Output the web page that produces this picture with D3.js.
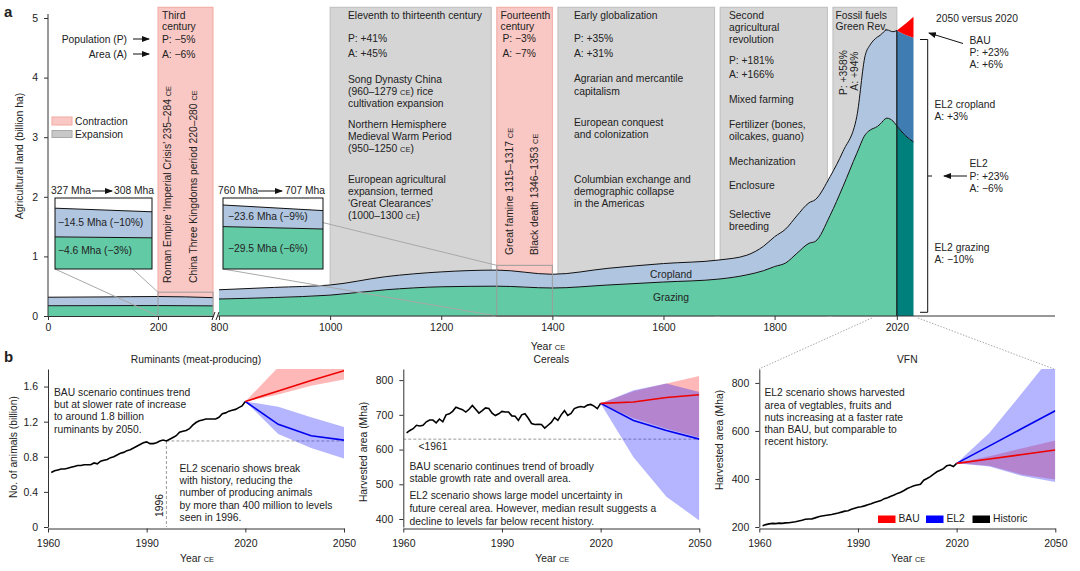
<!DOCTYPE html>
<html><head><meta charset="utf-8">
<script src="https://cdn.jsdelivr.net/npm/d3@7"></script>
<style>
body{margin:0;background:#fff;}
svg{font-family:"Liberation Sans",Arial,Helvetica,sans-serif;}
</style></head><body>
<svg id="c" width="1080" height="571"></svg>
<script>
// ---------- DATA: panel a (billion ha) ----------
const earlyYears   = [0, 100, 200, 300];
const earlyTotal   = [0.315, 0.32, 0.327, 0.308];
const earlyGrazing = [0.172, 0.174, 0.175, 0.17];

const mainYears   = [800,900,1000,1100,1200,1300,1400,1500,1600,1700,1750,1780,1800,1820,1840,1862,1873,1900,1923,1948,1963,1972,1985,1990,2002,2013,2020];
const mainTotal   = [0.44,0.48,0.52,0.66,0.74,0.77,0.70,0.80,0.88,0.94,1.02,1.17,1.33,1.46,1.68,1.90,1.95,2.34,2.76,3.35,4.37,4.55,4.68,4.71,4.80,4.77,4.79];
const mainGrazing = [0.285,0.31,0.35,0.44,0.49,0.50,0.47,0.52,0.57,0.62,0.69,0.76,0.83,0.89,1.05,1.22,1.25,1.69,2.17,2.73,3.04,3.12,3.18,3.22,3.32,3.27,3.19];

const scenYears   = [2020, 2035, 2050];
const el2Total    = [4.79, 4.72, 4.67];
const el2Grazing  = [3.19, 3.03, 2.92];
const bauTotal    = [4.79, 4.90, 5.02];

const periodStart = [200, 1000, 1300, 1410, 1702, 1905];
const periodEnd   = [300, 1290, 1400, 1692, 1895, 2020];
const periodKind  = ["Contraction","Expansion","Contraction","Expansion","Expansion","Expansion"];

const axisATicksLeft  = [0, 200];
const axisATicksRight = [800, 1000, 1200, 1400, 1600, 1800, 2020];
const axisAYTicks     = [0, 1, 2, 3, 4, 5];

// ---------- DATA: panel b ----------
const histYears = d3.range(1961, 2021);
const rumHist = [0.62,0.64,0.65,0.66,0.66,0.67,0.68,0.69,0.70,0.70,
                 0.71,0.71,0.71,0.73,0.72,0.75,0.76,0.77,0.79,0.80,
                 0.82,0.84,0.85,0.87,0.88,0.90,0.92,0.94,0.96,0.97,
                 0.95,0.95,0.96,0.98,0.99,0.98,1.00,1.02,1.04,1.08,
                 1.09,1.10,1.12,1.16,1.19,1.21,1.22,1.23,1.23,1.23,
                 1.23,1.25,1.29,1.30,1.32,1.33,1.34,1.36,1.38,1.43];
const cerHist = [648,655,660,670,668,670,680,685,685,677,
                 688,680,700,703,710,722,718,715,708,716,
                 727,716,705,712,720,718,705,698,703,710,
                 708,708,697,696,684,700,703,690,675,672,
                 673,672,662,670,678,692,684,700,712,698,
                 704,718,722,724,722,728,730,725,718,733];
const vfnHist = [205,210,213,215,214,216,215,217,218,220,
                 222,225,228,232,233,234,238,243,246,248,
                 250,252,255,258,262,266,268,274,278,282,
                 284,288,293,297,302,306,310,318,322,328,
                 333,340,345,352,360,366,372,375,378,395,
                 402,410,420,430,436,443,455,458,452,465];
const projYears = [2020, 2030, 2040, 2050];
const rumBAU   = [1.43, 1.55, 1.67, 1.78];
const rumBAUlo = [1.43, 1.51, 1.61, 1.68];
const rumBAUhi = [1.43, 1.82, 2.10, 2.35];
const rumEL2   = [1.43, 1.17, 1.04, 0.99];
const rumEL2lo = [1.43, 1.06, 0.90, 0.78];
const rumEL2hi = [1.43, 1.37, 1.25, 1.14];
const cerBAU   = [733, 737, 750, 758];
const cerBAUlo = [733, 690, 660, 635];
const cerBAUhi = [733, 768, 790, 812];
const cerEL2   = [733, 684, 655, 630];
const cerEL2lo = [733, 578, 464, 396];
const cerEL2hi = [733, 771, 790, 766];
const vfnBAU   = [465, 483, 502, 521];
const vfnBAUlo = [465, 455, 418, 398];
const vfnBAUhi = [465, 495, 528, 560];
const vfnEL2   = [465, 538, 611, 684];
const vfnEL2lo = [465, 452, 412, 387];
const vfnEL2hi = [465, 592, 760, 930];
const bXTicks = [1960, 1990, 2020, 2050];

// ---------- helpers ----------
const svg = d3.select("#c");
const FS = 10.3, INK = "#222";
const defs = svg.append("defs");
defs.append("marker").attr("id","arr").attr("viewBox","0 0 8 6").attr("refX",7).attr("refY",3)
  .attr("markerWidth",8).attr("markerHeight",6).attr("markerUnits","userSpaceOnUse").attr("orient","auto")
  .append("path").attr("d","M0,0L8,3L0,6Z").attr("fill","#111");

function addParts(t, s, size){
  const parts = s.split("§");
  parts.forEach((p,j)=>{
    if(j>0) t.append("tspan").attr("font-size", size*0.72).text("CE");
    if(p) t.append("tspan").attr("font-size", size).text(p);
  });
}
function txt(g, x, y, lines, o={}){
  const size=o.size||FS, lh=o.lh||12.2;
  (Array.isArray(lines)?lines:[lines]).forEach((ln,i)=>{
    const t=g.append("text").attr("x",x).attr("y",y+i*lh).attr("fill",o.fill||INK)
      .attr("text-anchor",o.anchor||"start").attr("font-size",size);
    if(o.bold) t.attr("font-weight","bold");
    addParts(t, ln, size);
  });
}
function rtxt(g, x, y, s, o={}){
  const size=o.size||FS;
  const t=g.append("text").attr("transform",`translate(${x},${y}) rotate(-90)`)
    .attr("fill",o.fill||INK).attr("text-anchor",o.anchor||"start").attr("font-size",size);
  addParts(t, s, size);
}
function arrow(g,x1,y1,x2,y2){
  g.append("line").attr("x1",x1).attr("y1",y1).attr("x2",x2).attr("y2",y2)
   .attr("stroke","#111").attr("stroke-width",1).attr("marker-end","url(#arr)");
}
function styleAxis(g, size){
  g.attr("font-family","Liberation Sans, Arial, sans-serif").attr("font-size",size||10);
  g.selectAll("text").attr("fill",INK);
  g.selectAll("line,path").attr("stroke","#333");
}

// ---------- PANEL A ----------
const yA = d3.scaleLinear().domain([0,5]).range([316,18]);
const xL = d3.scaleLinear().domain([0,300]).range([48,213]);
const xM = d3.scaleLinear().domain([800,2050]).range([219,913.5]);
const gA = svg.append("g");

// period boxes
periodStart.forEach((s,i)=>{
  const sc = s < 800 ? xL : xM;
  const c = periodKind[i]==="Contraction";
  const x0 = sc(s), x1 = sc(periodEnd[i]);
  gA.append("rect").attr("x",x0).attr("y",yA(5.18)).attr("width",x1-x0).attr("height",yA(0)-yA(5.18))
    .attr("fill",c?"#FAC8C4":"#D5D5D5").attr("stroke",c?"#F2A8A1":"#BEBEBE").attr("stroke-width",1);
});

const earlyData = earlyYears.map((y,i)=>({y, t:earlyTotal[i], g:earlyGrazing[i]}));
const mainData  = mainYears.map((y,i)=>({y, t:mainTotal[i], g:mainGrazing[i]}));
const GREEN="#62CBA6", LBLUE="#AFC5E0";
function stack(g, data, xs, ys, base, curve){
  g.append("path").datum(data).attr("fill",GREEN)
   .attr("d", d3.area().x(d=>xs(d.y)).y0(ys(base)).y1(d=>ys(d.g)).curve(curve));
  g.append("path").datum(data).attr("fill",LBLUE)
   .attr("d", d3.area().x(d=>xs(d.y)).y0(d=>ys(d.g)).y1(d=>ys(d.t)).curve(curve));
  g.append("path").datum(data).attr("fill","none").attr("stroke","#111").attr("stroke-width",1)
   .attr("d", d3.line().x(d=>xs(d.y)).y(d=>ys(d.g)).curve(curve));
  g.append("path").datum(data).attr("fill","none").attr("stroke","#111").attr("stroke-width",1)
   .attr("d", d3.line().x(d=>xs(d.y)).y(d=>ys(d.t)).curve(curve));
}
stack(gA, earlyData, xL, yA, 0, d3.curveMonotoneX);
stack(gA, mainData, xM, yA, 0, d3.curveMonotoneX);

// scenario strip 2020-2050
const scen = scenYears.map((y,i)=>({y, t:el2Total[i], g:el2Grazing[i], b:bauTotal[i]}));
gA.append("path").datum(scen).attr("fill","#00807C")
  .attr("d", d3.area().x(d=>xM(d.y)).y0(yA(0)).y1(d=>yA(d.g)).curve(d3.curveMonotoneX));
gA.append("path").datum(scen).attr("fill","#3F7CB1")
  .attr("d", d3.area().x(d=>xM(d.y)).y0(d=>yA(d.g)).y1(d=>yA(d.t)).curve(d3.curveMonotoneX));
gA.append("path").datum(scen).attr("fill","#FF0000")
  .attr("d", d3.area().x(d=>xM(d.y)).y0(d=>yA(d.t)).y1(d=>yA(d.b)).curve(d3.curveMonotoneX));
gA.append("path").datum(scen).attr("fill","none").attr("stroke","#111").attr("stroke-width",1)
  .attr("d", d3.line().x(d=>xM(d.y)).y(d=>yA(d.g)).curve(d3.curveMonotoneX));
gA.append("line").attr("x1",xM(2020)).attr("x2",xM(2020)).attr("y1",yA(0)).attr("y2",yA(el2Total[0]))
  .attr("stroke","#111").attr("stroke-width",1.2);

// zoom rects & connectors
const zr = [[xL,200,300,0.4],[xM,1300,1400,0.85]];
const insetBox = [[55,198,152,269],[223,198,323,269]];
zr.forEach(([sc,a,b,top],i)=>{
  gA.append("rect").attr("x",sc(a)).attr("y",yA(top)).attr("width",sc(b)-sc(a)).attr("height",yA(0)-yA(top))
    .attr("fill","none").attr("stroke","#9C9C9C").attr("stroke-width",1);
  const [bx0,by0,,by1]=insetBox[i];
  gA.append("line").attr("x1",bx0).attr("y1",by0).attr("x2",sc(a)).attr("y2",yA(top)).attr("stroke","#A8A8A8");
  gA.append("line").attr("x1",bx0).attr("y1",by1).attr("x2",sc(a)).attr("y2",yA(0)).attr("stroke","#A8A8A8");
});

// insets
function inset(box, data, xd, yd){
  const [x0,y0,x1,y1]=box;
  const g=gA.append("g");
  g.append("rect").attr("x",x0).attr("y",y0).attr("width",x1-x0).attr("height",y1-y0).attr("fill","#fff");
  const xs=d3.scaleLinear().domain(xd).range([x0,x1]);
  const ys=d3.scaleLinear().domain(yd).range([y1,y0]);
  stack(g, data, xs, ys, yd[0], d3.curveLinear);
  g.append("rect").attr("x",x0).attr("y",y0).attr("width",x1-x0).attr("height",y1-y0)
   .attr("fill","none").attr("stroke","#111").attr("stroke-width",1);
}
inset(insetBox[0], earlyData.filter(d=>d.y>=200&&d.y<=300), [200,300], [0.005,0.381]);
inset(insetBox[1], mainData.filter(d=>d.y>=1300&&d.y<=1400), [1300,1400], [-0.03,0.8575]);

// axes panel a
const yAx = gA.append("g").attr("transform","translate(48,0)")
  .call(d3.axisLeft(yA).tickValues(axisAYTicks).tickFormat(d3.format("d")).tickSize(4).tickPadding(6).tickSizeOuter(0));
styleAxis(yAx, 10.5);
yAx.select(".domain").attr("d","M0,316V14");
const xAx1 = gA.append("g").attr("transform","translate(0,316)")
  .call(d3.axisBottom(xL).tickValues(axisATicksLeft).tickSize(4).tickPadding(4).tickSizeOuter(0));
styleAxis(xAx1, 10.5);
const xMext = xM.copy().domain([800,2300]).range([219, xM(2300)]);
const xAx2 = gA.append("g").attr("transform","translate(0,316)")
  .call(d3.axisBottom(xMext).tickValues(axisATicksRight).tickFormat(d3.format("d")).tickSize(4).tickPadding(4).tickSizeOuter(0));
styleAxis(xAx2, 10.5);
xAx2.select(".domain").attr("d",`M${xM(800)-1},0H1055`);
// break marks
[213.5,217.5].forEach(bx=>gA.append("line").attr("x1",bx-1.5).attr("y1",320).attr("x2",bx+1.5).attr("y2",312).attr("stroke","#222"));

// dotted connectors to VFN
gA.append("line").attr("x1",xM(1975)).attr("y1",318).attr("x2",759).attr("y2",369).attr("stroke","#aaa").attr("stroke-dasharray","1.5,1.5");
gA.append("line").attr("x1",xM(2058)).attr("y1",318).attr("x2",1054).attr("y2",369).attr("stroke","#aaa").attr("stroke-dasharray","1.5,1.5");

// texts panel a
txt(gA, 4, 17, "a", {size:15, bold:true});
rtxt(gA, 23, 156, "Agricultural land (billion ha)", {anchor:"middle", size:10.5});
txt(gA, 548, 350, "Year §", {anchor:"middle", size:10.5});

txt(gA, 162, 19, ["Third","century"], {lh:10.5});
txt(gA, 162, 42.7, ["P: −5%","A: −6%"], {lh:15});
txt(gA, 127, 42.7, ["Population (P)","Area (A)"], {lh:15, anchor:"end"});
arrow(gA,133,39,149,39); arrow(gA,133,54,149,54);
rtxt(gA, 171, 283, "Roman Empire ‘Imperial Crisis’ 235–284 §");
rtxt(gA, 197, 283, "China Three Kingdoms period 220–280 §");

gA.append("rect").attr("x",52).attr("y",117).attr("width",20).attr("height",8).attr("fill","#FAC8C4").attr("stroke","#F2A8A1");
gA.append("rect").attr("x",52).attr("y",130.5).attr("width",20).attr("height",7).attr("fill","#C8C8C8").attr("stroke","#A8A8A8");
txt(gA, 75, 125, "Contraction");
txt(gA, 75, 138, "Expansion");

txt(gA, 51, 194.4, "327 Mha"); arrow(gA,92,191,112,191); txt(gA, 114, 194.4, "308 Mha");
txt(gA, 58, 226.4, "−14.5 Mha (−10%)");
txt(gA, 58, 254.4, "−4.6 Mha (−3%)");
txt(gA, 218, 194.4, "760 Mha"); arrow(gA,258,191,282,191); txt(gA, 285, 194.4, "707 Mha");
txt(gA, 228, 220.4, "−23.6 Mha (−9%)");
txt(gA, 228, 252, "−29.5 Mha (−6%)");

txt(gA, 348, 19, "Eleventh to thirteenth century");
txt(gA, 348, 42, ["P: +41%","A: +45%"], {lh:15});
txt(gA, 348, 83, ["Song Dynasty China","(960–1279 §) rice","cultivation expansion"]);
txt(gA, 348, 127.7, ["Northern Hemisphere","Medieval Warm Period","(950–1250 §)"]);
txt(gA, 348, 182.7, ["European agricultural","expansion, termed","‘Great Clearances’","(1000–1300 §)"]);

txt(gA, 500.5, 19, ["Fourteenth","century"], {lh:10.5});
txt(gA, 502.5, 42, ["P: −3%","A: −7%"], {lh:15});
rtxt(gA, 513, 255, "Great famine 1315–1317 §");
rtxt(gA, 538, 255, "Black death 1346–1353 §");

txt(gA, 574, 19, "Early globalization");
txt(gA, 574, 42, ["P: +35%","A: +31%"], {lh:15});
txt(gA, 574, 82.4, ["Agrarian and mercantile","capitalism"]);
txt(gA, 574, 125.7, ["European conquest","and colonization"]);
txt(gA, 574, 182.7, ["Columbian exchange and","demographic collapse","in the Americas"]);

txt(gA, 729, 19, ["Second","agricultural","revolution"]);
txt(gA, 729, 63.7, ["P: +181%","A: +166%"], {lh:14});
txt(gA, 729, 103, "Mixed farming");
txt(gA, 729, 127.7, ["Fertilizer (bones,","oilcakes, guano)"], {lh:12.7});
txt(gA, 729, 165.4, "Mechanization");
txt(gA, 729, 189.4, "Enclosure");
txt(gA, 729, 218, ["Selective","breeding"], {lh:12.4});

txt(gA, 835.5, 19, ["Fossil fuels","Green Rev."], {lh:11.4});
rtxt(gA, 847, 95, "P: +358%");
rtxt(gA, 857.5, 90.7, "A: +94%");

txt(gA, 671, 277.7, "Cropland", {anchor:"middle"});
txt(gA, 671, 301, "Grazing", {anchor:"middle"});

// right-side annotations
txt(gA, 936, 22, "2050 versus 2020");
arrow(gA, 963, 43.5, 929, 33);
txt(gA, 969.5, 43.7, ["BAU","P: +23%","A: +6%"], {lh:12.3});
txt(gA, 934.5, 107.7, ["EL2 cropland","A: +3%"], {lh:12.7});
arrow(gA, 967, 176, 944, 176);
txt(gA, 969.5, 167, ["EL2","P: +23%","A: −6%"], {lh:12.5});
txt(gA, 934.5, 251, ["EL2 grazing","A: −10%"], {lh:12.2});
gA.append("path").attr("d","M920,39.5H927.7V312.3H920M927.7,176H932").attr("fill","none").attr("stroke","#111").attr("stroke-width",1);

// ---------- PANEL B ----------
function panelB(cfg){
  const g = svg.append("g");
  const x = d3.scaleLinear().domain([1960,2050]).range([cfg.x0, cfg.x0+296]);
  const y = d3.scaleLinear().domain(cfg.yDom).range([527,369]);
  const cid = "clip"+cfg.id;
  defs.append("clipPath").attr("id",cid).append("rect").attr("x",cfg.x0).attr("y",369).attr("width",296).attr("height",158);
  const pg = g.append("g").attr("clip-path",`url(#${cid})`);

  cfg.dashes.forEach(([a,b,c,d])=>{
    pg.append("line").attr("x1",x(a)).attr("y1",y(b)).attr("x2",x(c)).attr("y2",y(d))
      .attr("stroke","#9a9a9a").attr("stroke-width",1).attr("stroke-dasharray","3,2");
  });

  const band = (lo,hi)=>projYears.map((yr,i)=>({yr, lo:lo[i], hi:hi[i]}));
  const areaB = d3.area().x(d=>x(d.yr)).y0(d=>y(d.lo)).y1(d=>y(d.hi));
  pg.append("path").datum(band(cfg.bauLo,cfg.bauHi)).attr("fill","#FF0000").attr("fill-opacity",0.28).attr("d",areaB);
  pg.append("path").datum(band(cfg.el2Lo,cfg.el2Hi)).attr("fill","#1A1AFF").attr("fill-opacity",0.33).attr("d",areaB);

  const ln = d3.line().x(d=>x(d[0])).y(d=>y(d[1]));
  pg.append("path").datum(histYears.map((yr,i)=>[yr,cfg.hist[i]])).attr("fill","none")
    .attr("stroke","#000").attr("stroke-width",1.6).attr("d",ln);
  pg.append("path").datum(projYears.map((yr,i)=>[yr,cfg.el2[i]])).attr("fill","none")
    .attr("stroke","#0000EE").attr("stroke-width",1.6).attr("d",ln);
  pg.append("path").datum(projYears.map((yr,i)=>[yr,cfg.bau[i]])).attr("fill","none")
    .attr("stroke","#EE0000").attr("stroke-width",1.6).attr("d",ln);

  const ya = g.append("g").attr("transform",`translate(${cfg.x0},0)`)
    .call(d3.axisLeft(y).tickValues(cfg.yTicks).tickFormat(cfg.fmt).tickSize(4).tickPadding(6).tickSizeOuter(0));
  styleAxis(ya, 10.5);
  const xa = g.append("g").attr("transform","translate(0,528.5)")
    .call(d3.axisBottom(x).tickValues(bXTicks).tickFormat(d3.format("d")).tickSize(4).tickPadding(7).tickSizeOuter(0));
  styleAxis(xa, 10.5);

  txt(g, cfg.x0+148, 363, cfg.title, {anchor:"middle"});
  txt(g, cfg.x0+149, 562, "Year §", {anchor:"middle"});
  rtxt(g, cfg.ylx, cfg.yly, cfg.ylab, {anchor:"middle"});
  return {g, x, y};
}

const pR = panelB({id:"r", x0:48, yDom:[0,1.8], yTicks:[0,0.4,0.8,1.2,1.6], fmt:d=>d===0?"0":d3.format(".1f")(d),
  hist:rumHist, bau:rumBAU, bauLo:rumBAUlo, bauHi:rumBAUhi, el2:rumEL2, el2Lo:rumEL2lo, el2Hi:rumEL2hi,
  dashes:[[1996,0.98,2050,0.98],[1996,0.98,1996,0]],
  title:"Ruminants (meat-producing)", ylab:"No. of animals (billion)", ylx:17, yly:447});
txt(pR.g, 4, 362, "b", {size:15, bold:true});
rtxt(pR.g, 163, 517, "1996");
txt(pR.g, 54, 396, ["BAU scenario continues trend","but at slower rate of increase","to around 1.8 billion","ruminants by 2050."]);
txt(pR.g, 179.5, 472, ["EL2 scenario shows break","with history, reducing the","number of producing animals","by more than 400 million to levels","seen in 1996."]);

const pC = panelB({id:"c", x0:403.3, yDom:[377,832], yTicks:[400,500,600,700,800], fmt:d3.format("d"),
  hist:cerHist, bau:cerBAU, bauLo:cerBAUlo, bauHi:cerBAUhi, el2:cerEL2, el2Lo:cerEL2lo, el2Hi:cerEL2hi,
  dashes:[[1960,630,2050,630]],
  title:"Cereals", ylab:"Harvested area (Mha)", ylx:367, yly:452});
txt(pC.g, 418.5, 449.7, "<1961");
txt(pC.g, 409.5, 470.4, ["BAU scenario continues trend of broadly","stable growth rate and overall area."], {lh:11.8});
txt(pC.g, 409.5, 499.4, ["EL2 scenario shows large model uncertainty in","future cereal area. However, median result suggests a","decline to levels far below recent history."], {lh:12.6});

const pV = panelB({id:"v", x0:759.3, yDom:[200,858], yTicks:[200,400,600,800], fmt:d3.format("d"),
  hist:vfnHist, bau:vfnBAU, bauLo:vfnBAUlo, bauHi:vfnBAUhi, el2:vfnEL2, el2Lo:vfnEL2lo, el2Hi:vfnEL2hi,
  dashes:[],
  title:"VFN", ylab:"Harvested area (Mha)", ylx:723, yly:440});
txt(pV.g, 764.5, 396.4, ["EL2 scenario shows harvested","area of vegtables, fruits and","nuts increasing at a faster rate","than BAU, but comparable to","recent history."]);
const legNames = ["BAU","EL2","Historic"];
const legColors = ["#FF0000","#0000FF","#000000"];
const legX = [878, 926, 972.5];
legNames.forEach((n,i)=>{
  pV.g.append("rect").attr("x",legX[i]).attr("y",515.5).attr("width",17.5).attr("height",7.5).attr("fill",legColors[i]);
  txt(pV.g, legX[i]+20.5, 522.4, n);
});
</script>
</body></html>
